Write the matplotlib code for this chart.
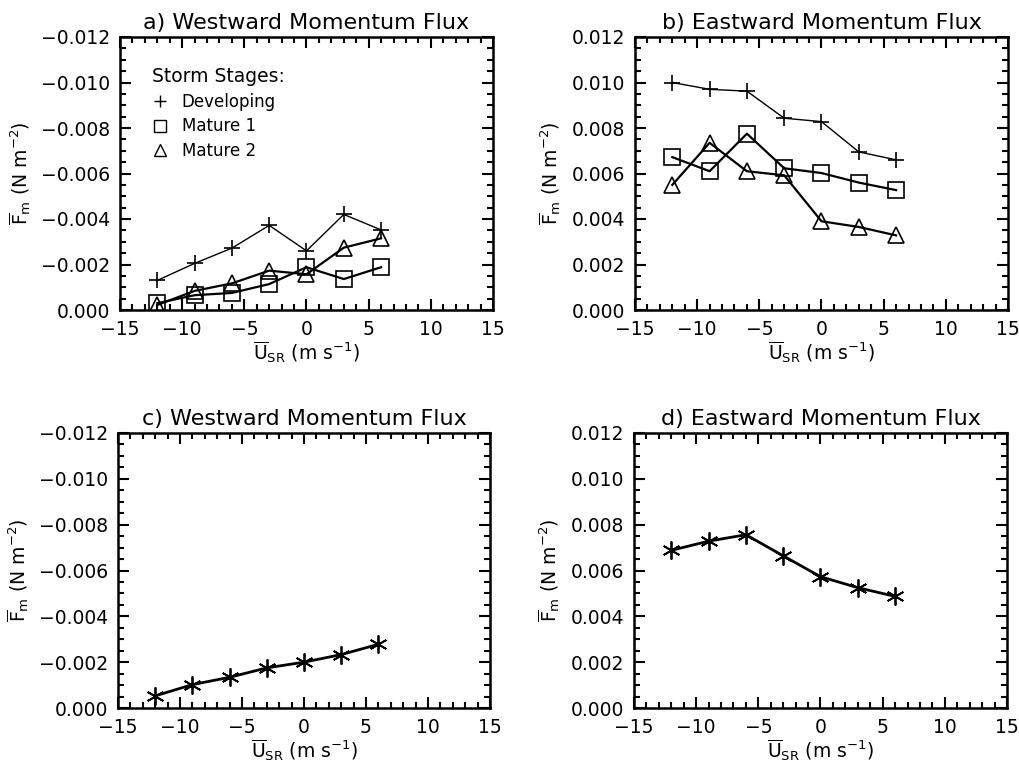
import numpy as np
import matplotlib
matplotlib.use('Agg')
import matplotlib.pyplot as plt
from matplotlib.lines import Line2D
from matplotlib.ticker import MultipleLocator, FuncFormatter

# Storm-relative wind bins (m/s)
u_sr = [-12, -9, -6, -3, 0, 3, 6]

# a) westward momentum flux per storm stage
west_developing = [-0.00130, -0.00205, -0.00272, -0.00372, -0.00260, -0.00420, -0.00352]
west_mature1 = [-0.00030, -0.00065, -0.00075, -0.00114, -0.00188, -0.00136, -0.00188]
west_mature2 = [-0.00022, -0.00084, -0.00117, -0.00173, -0.00157, -0.00274, -0.00315]

# b) eastward momentum flux per storm stage
east_developing = [0.01000, 0.00970, 0.00962, 0.00843, 0.00828, 0.00695, 0.00660]
east_mature1 = [0.00672, 0.00610, 0.00775, 0.00623, 0.00602, 0.00560, 0.00527]
east_mature2 = [0.00550, 0.00735, 0.00610, 0.00592, 0.00390, 0.00365, 0.00328]

# c) and d) all storms
west_all = [-0.00053, -0.00102, -0.00134, -0.00175, -0.00200, -0.00233, -0.00278]
east_all = [0.00688, 0.00728, 0.00756, 0.00664, 0.00573, 0.00525, 0.00487]

titles = ['a) Westward Momentum Flux', 'b) Eastward Momentum Flux',
          'c) Westward Momentum Flux', 'd) Eastward Momentum Flux']

plt.rcParams['font.family'] = 'DejaVu Sans'
fig = plt.figure(figsize=(10.2, 7.63), dpi=100)

W, H = 1020, 763
boxes = [(120, 37, 493, 310), (635, 37, 1008, 310),
         (118, 433, 490, 708), (634, 433, 1007, 708)]
axes = []
for (l, t, r, b) in boxes:
    axes.append(fig.add_axes([l / W, 1 - b / H, (r - l) / W, (b - t) / H]))

asterisk = (6, 2, 0)
fmt = FuncFormatter(lambda v, p: ('%.3f' % v).replace('-', '\u2212'))
xfmt = FuncFormatter(lambda v, p: ('%d' % v).replace('-', '\u2212'))

for i, ax in enumerate(axes):
    west = i in (0, 2)
    ax.set_xlim(-15, 15)
    if west:
        ax.set_ylim(0, -0.012)
    else:
        ax.set_ylim(0, 0.012)
    ax.xaxis.set_major_locator(MultipleLocator(5))
    ax.xaxis.set_minor_locator(MultipleLocator(1))
    ax.yaxis.set_major_locator(MultipleLocator(0.002))
    ax.yaxis.set_minor_locator(MultipleLocator(0.0005))
    ax.yaxis.set_major_formatter(fmt)
    ax.xaxis.set_major_formatter(xfmt)
    ax.tick_params(which='both', direction='in', top=True, right=True, labelsize=13.5, width=1.5)
    ax.tick_params(which='major', length=8, pad=7)
    ax.tick_params(which='minor', length=4)
    for s in ax.spines.values():
        s.set_linewidth(1.8)
    ax.set_title(titles[i], fontsize=16, pad=6)
    ax.set_xlabel(r'$\overline{\mathrm{U}}_{\mathrm{SR}}$ (m s$^{-1}$)', fontsize=13.5, labelpad=0)
    ax.set_ylabel(r'$\overline{\mathrm{F}}_{\mathrm{m}}$ (N m$^{-2}$)', fontsize=13.5, labelpad=6)

# panel a
ax = axes[0]
ax.plot(u_sr, west_developing, color='black', lw=1.0, marker='+', ms=12, mew=1.2)
ax.plot(u_sr, west_mature1, color='black', lw=1.6, marker='s', ms=11, mfc='none', mew=1.2)
ax.plot(u_sr, west_mature2, color='black', lw=1.6, marker='^', ms=12, mfc='none', mew=1.2)
handles = [Line2D([], [], color='black', ls='none', marker='+', ms=9, mew=1.0),
           Line2D([], [], color='black', ls='none', marker='s', ms=9, mfc='none', mew=1.0),
           Line2D([], [], color='black', ls='none', marker='^', ms=8, mfc='none', mew=1.0)]
leg = ax.legend(handles, ['Developing', 'Mature 1', 'Mature 2'], title='Storm Stages:',
                loc='upper left', bbox_to_anchor=(0.045, 0.945), frameon=False,
                fontsize=12, title_fontsize=13.5, handlelength=1.0, handletextpad=0.8,
                labelspacing=0.4, alignment='left')

# panel b
ax = axes[1]
ax.plot(u_sr, east_developing, color='black', lw=1.0, marker='+', ms=12, mew=1.2)
ax.plot(u_sr, east_mature1, color='black', lw=1.6, marker='s', ms=11, mfc='none', mew=1.2)
ax.plot(u_sr, east_mature2, color='black', lw=1.6, marker='^', ms=12, mfc='none', mew=1.2)

# panels c and d
axes[2].plot(u_sr, west_all, color='black', lw=2.0, marker=asterisk, ms=13, mew=1.3)
axes[3].plot(u_sr, east_all, color='black', lw=2.0, marker=asterisk, ms=13, mew=1.3)

fig.savefig('out.png', dpi=100)
